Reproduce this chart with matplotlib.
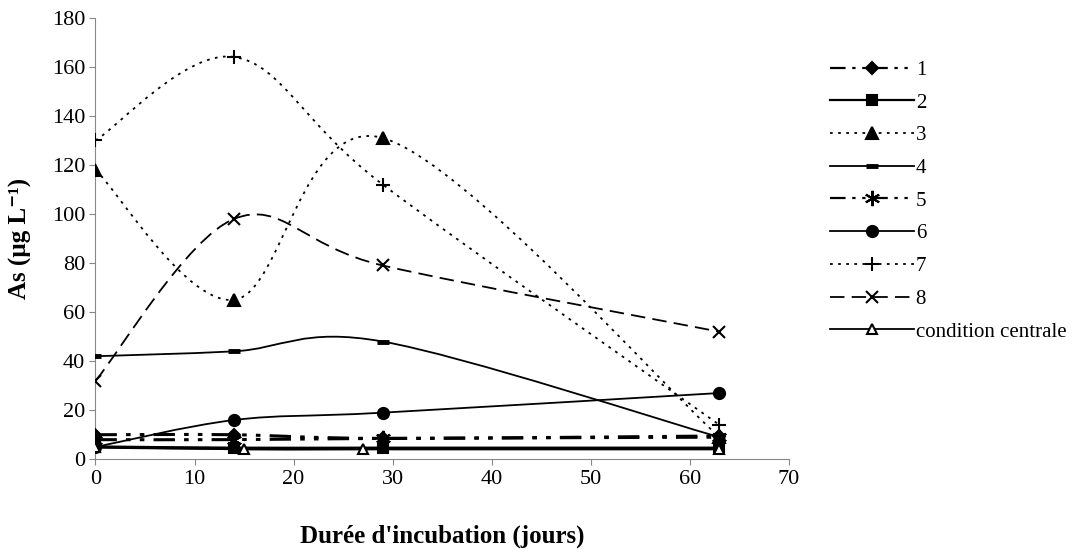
import numpy as np
import matplotlib.pyplot as plt
from matplotlib.path import Path
from matplotlib.patches import PathPatch
from matplotlib.lines import Line2D

plt.rcParams['font.family'] = ['Liberation Serif', 'DejaVu Serif']

# data
days = [0, 14, 29, 63]
days_cc = [0, 15, 27, 63]

s1 = [10, 10, 8.5, 9.5]
s2 = [5, 4.5, 4.5, 4.5]
s3 = [118, 65, 131, 9]
s4 = [42, 44, 48, 9]
s5 = [8, 8, 8.5, 9]
s6 = [5, 16, 19, 27]
s7 = [130, 164, 112, 14]
s8 = [32, 98, 79, 52]
s_cc = [5, 4, 4, 4]

labels = ['1', '2', '3', '4', '5', '6', '7', '8', 'condition centrale']

dashdotdot = (0, (7, 3, 1.5, 3, 1.5, 3))
# series, x, marker, size, linestyle, width, marker face
styles = [
    (s1, days, 'D', 6, dashdotdot, 2.2, 'k'),
    (s2, days, 's', 7, '-', 2.4, 'k'),
    (s3, days, '^', 8, (0, (1.5, 3)), 1.3, 'k'),
    (s4, days, '_', 9, '-', 1.3, 'k'),
    (s5, days, (6, 2, 0), 11, dashdotdot, 2.2, 'k'),
    (s6, days, 'o', 8, '-', 1.3, 'k'),
    (s7, days, '+', 10, (0, (1.5, 3)), 1.3, 'k'),
    (s8, days, 'x', 9, (0, (8, 4)), 1.3, 'k'),
    (s_cc, days_cc, '^', 7, '-', 1.3, 'w'),
]


def smooth_path(x, y):
    # excel-style smoothed line as cubic bezier segments
    pts = np.column_stack([x, y]).astype(float)
    n = len(pts)
    verts = [pts[0]]
    codes = [Path.MOVETO]
    for i in range(n - 1):
        p0 = pts[i - 1] if i > 0 else pts[i]
        p1 = pts[i]
        p2 = pts[i + 1]
        p3 = pts[i + 2] if i + 2 < n else pts[i + 1]
        c1 = p1 + (p2 - p0) / 6
        c2 = p2 - (p3 - p1) / 6
        verts += [c1, c2, p2]
        codes += [Path.CURVE4] * 3
    return Path(verts, codes)


fig = plt.figure(figsize=(10.85, 5.54), dpi=100)
ax = fig.add_axes([0.088, 0.171, 0.639, 0.797])

handles = []
for (ys, xs, mk, ms, ls, lw, fc), lab in zip(styles, labels):
    patch = PathPatch(smooth_path(xs, ys), facecolor='none', edgecolor='k',
                      lw=lw, linestyle=ls, zorder=2)
    ax.add_patch(patch)
    mew = 3.5 if mk == '_' else 1.5
    ax.plot(xs, ys, linestyle='none', marker=mk, markersize=ms,
            markerfacecolor=fc, markeredgecolor='k', markeredgewidth=mew, zorder=3)
    handles.append(Line2D([], [], color='k', lw=min(lw, 1.6), linestyle=ls, marker=mk,
                          markersize=ms, markerfacecolor=fc, markeredgecolor='k',
                          markeredgewidth=mew, label=lab))

ax.set_xlim(0, 70)
ax.set_ylim(0, 180)
ax.set_xticks(np.arange(0, 71, 10))
ax.set_yticks(np.arange(0, 181, 20))
ax.tick_params(labelsize=16, color='#888888', length=4)
for sp in ['top', 'right']:
    ax.spines[sp].set_visible(False)
for sp in ['left', 'bottom']:
    ax.spines[sp].set_color('#888888')

ax.set_xlabel("Durée d'incubation (jours)", fontsize=18, fontweight='bold', labelpad=26)
ax.set_ylabel("As (µg L⁻¹)", fontsize=18, fontweight='bold', labelpad=14)

fig.legend(handles=handles, loc='upper left', bbox_to_anchor=(0.748, 0.925),
           frameon=False, fontsize=15, handlelength=4.0, handletextpad=0.1,
           labelspacing=0.63)

fig.savefig('out.png', dpi=100)
